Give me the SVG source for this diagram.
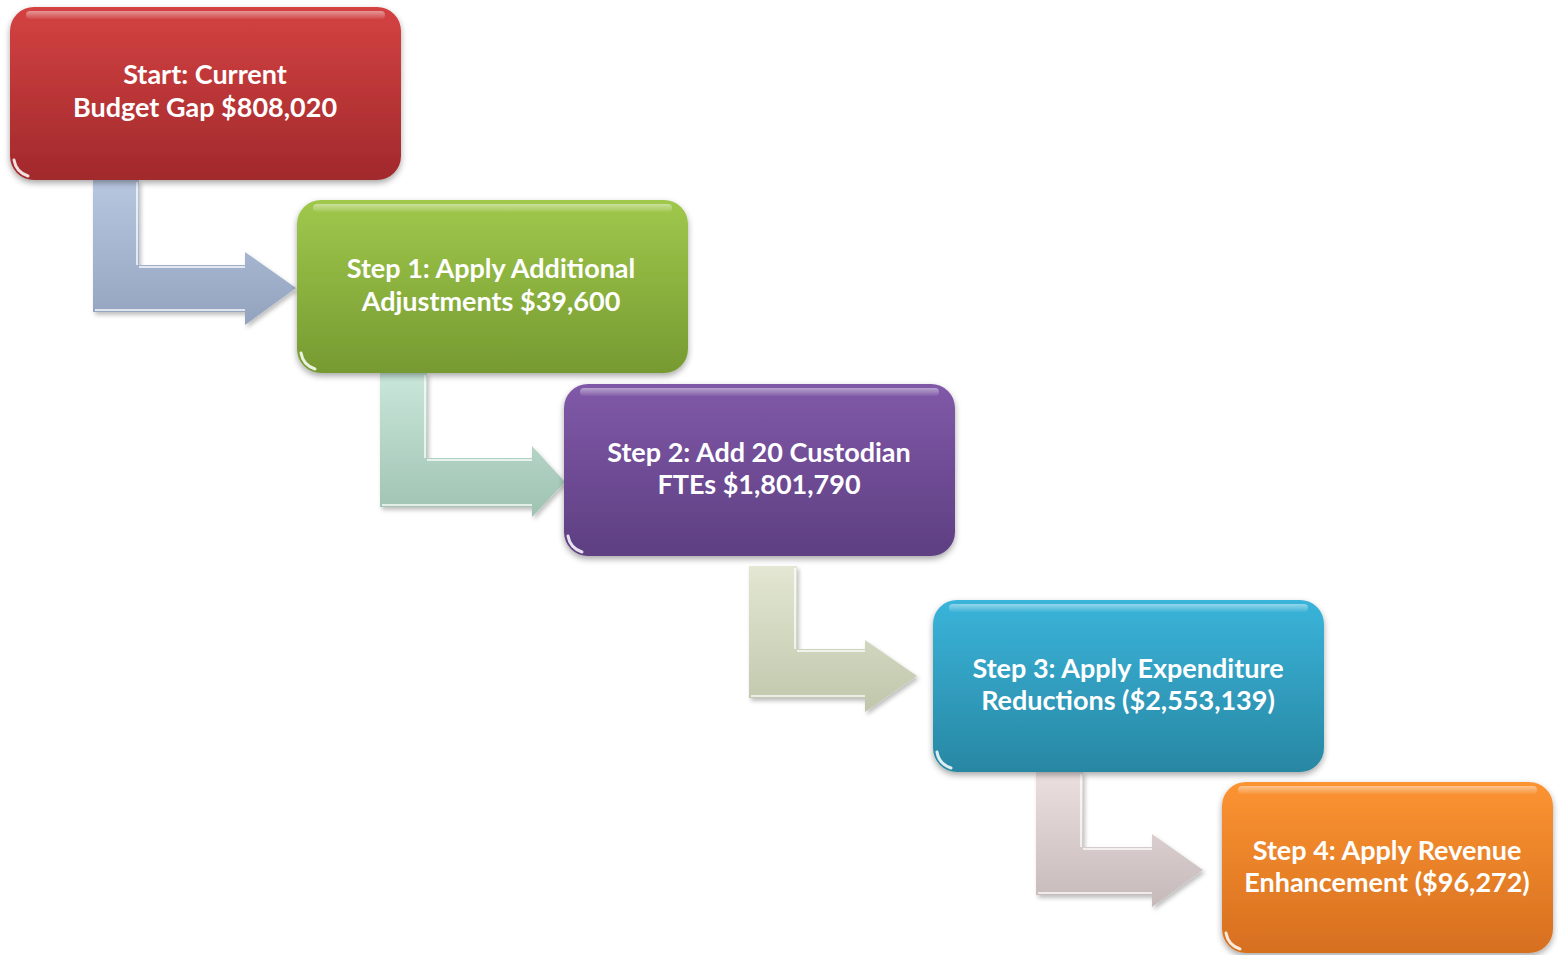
<svg xmlns="http://www.w3.org/2000/svg" width="1558" height="955" viewBox="0 0 1558 955">
<style>
.lbl{font-family:Lato,"Liberation Sans",sans-serif;font-weight:700;font-size:27px;fill:#ffffff;text-anchor:middle}
.gloss{fill:url(#gloss)}
.glint{fill:none;stroke:#ffffff;stroke-opacity:0.85;stroke-width:3;stroke-linecap:round}
.bev{fill:none;stroke:#ffffff;stroke-opacity:0.7;stroke-width:2}
</style>
<defs>
<filter id="sh" x="-10%" y="-10%" width="120%" height="130%">
<feDropShadow dx="0" dy="3" stdDeviation="3" flood-color="#000" flood-opacity="0.35"/>
</filter>
<filter id="ash" x="-10%" y="-10%" width="130%" height="130%">
<feDropShadow dx="2" dy="3" stdDeviation="2" flood-color="#000" flood-opacity="0.25"/>
</filter>
<linearGradient id="gloss" x1="0" y1="0" x2="0" y2="1">
<stop offset="0" stop-color="#fff" stop-opacity="0.45"/>
<stop offset="1" stop-color="#fff" stop-opacity="0.05"/>
</linearGradient>
<linearGradient id="gRed" x1="0" y1="0" x2="0" y2="1"><stop offset="0" stop-color="#d44242"/><stop offset="1" stop-color="#a1292c"/></linearGradient>
<linearGradient id="gGreen" x1="0" y1="0" x2="0" y2="1"><stop offset="0" stop-color="#a0c84c"/><stop offset="1" stop-color="#769a31"/></linearGradient>
<linearGradient id="gPurple" x1="0" y1="0" x2="0" y2="1"><stop offset="0" stop-color="#8059a8"/><stop offset="1" stop-color="#5e3f82"/></linearGradient>
<linearGradient id="gCyan" x1="0" y1="0" x2="0" y2="1"><stop offset="0" stop-color="#3ab4da"/><stop offset="1" stop-color="#2887a3"/></linearGradient>
<linearGradient id="gOrange" x1="0" y1="0" x2="0" y2="1"><stop offset="0" stop-color="#fc9432"/><stop offset="1" stop-color="#d66f1f"/></linearGradient>
<linearGradient id="a1" x1="0" y1="0" x2="0" y2="1"><stop offset="0" stop-color="#b8c7e0"/><stop offset="1" stop-color="#93a3be"/></linearGradient>
<linearGradient id="a2" x1="0" y1="0" x2="0" y2="1"><stop offset="0" stop-color="#c9e7da"/><stop offset="1" stop-color="#9fc2b2"/></linearGradient>
<linearGradient id="a3" x1="0" y1="0" x2="0" y2="1"><stop offset="0" stop-color="#e3e7d3"/><stop offset="1" stop-color="#c0c6ab"/></linearGradient>
<linearGradient id="a4" x1="0" y1="0" x2="0" y2="1"><stop offset="0" stop-color="#ecdfe0"/><stop offset="1" stop-color="#c5b9b9"/></linearGradient>
</defs>
<rect width="1558" height="955" fill="#ffffff"/>
<g id="connectors">
<g id="arrow1" filter="url(#ash)">
<path d="M93,180 L139,180 L139,265 L245,265 L245,252 L296,288 L245,325 L245,312 L93,312 Z" fill="url(#a1)"/>
<path class="bev" d="M137,182 L137,265 M139,267 L245,267 M95,310 L245,310"/>
</g>
<g id="arrow2" filter="url(#ash)">
<path d="M380,373 L427,373 L427,458 L532,458 L532,446 L565,482 L532,517 L532,507 L380,507 Z" fill="url(#a2)"/>
<path class="bev" d="M425,375 L425,458 M427,460 L532,460 M382,505 L532,505"/>
</g>
<g id="arrow3" filter="url(#ash)">
<path d="M749,566 L797,566 L797,649 L865,649 L865,640 L917,676 L865,712 L865,698 L749,698 Z" fill="url(#a3)"/>
<path class="bev" d="M795,568 L795,649 M797,651 L865,651 M751,696 L865,696"/>
</g>
<g id="arrow4" filter="url(#ash)">
<path d="M1036,772 L1083,772 L1083,847 L1152,847 L1152,834 L1203,870 L1152,907 L1152,895 L1036,895 Z" fill="url(#a4)"/>
<path class="bev" d="M1081,774 L1081,847 M1083,849 L1152,849 M1038,893 L1152,893"/>
</g>
</g>
<g id="start">
<rect x="10" y="7" width="391" height="173" rx="24" fill="url(#gRed)" filter="url(#sh)"/>
<rect x="26" y="11" width="359" height="8" rx="4" class="gloss"/>
<path class="glint" d="M14,160 Q16,172 28,176"/>
<text class="lbl" x="205" y="84">Start: Current</text>
<text class="lbl" x="205" y="117">Budget Gap $808,020</text>
</g>
<g id="step1">
<rect x="297" y="200" width="391" height="173" rx="24" fill="url(#gGreen)" filter="url(#sh)"/>
<rect x="313" y="204" width="359" height="8" rx="4" class="gloss"/>
<path class="glint" d="M301,353 Q303,365 315,369"/>
<text class="lbl" x="491" y="278">Step 1: Apply Additional</text>
<text class="lbl" x="491" y="311">Adjustments $39,600</text>
</g>
<g id="step2">
<rect x="564" y="384" width="391" height="172" rx="24" fill="url(#gPurple)" filter="url(#sh)"/>
<rect x="580" y="388" width="359" height="8" rx="4" class="gloss"/>
<path class="glint" d="M568,536 Q570,548 582,552"/>
<text class="lbl" x="759" y="462">Step 2: Add 20 Custodian</text>
<text class="lbl" x="759" y="494">FTEs $1,801,790</text>
</g>
<g id="step3">
<rect x="933" y="600" width="391" height="172" rx="24" fill="url(#gCyan)" filter="url(#sh)"/>
<rect x="949" y="604" width="359" height="8" rx="4" class="gloss"/>
<path class="glint" d="M937,752 Q939,764 951,768"/>
<text class="lbl" x="1128" y="678">Step 3: Apply Expenditure</text>
<text class="lbl" x="1128" y="710">Reductions ($2,553,139)</text>
</g>
<g id="step4">
<rect x="1222" y="782" width="331" height="171" rx="24" fill="url(#gOrange)" filter="url(#sh)"/>
<rect x="1238" y="786" width="299" height="8" rx="4" class="gloss"/>
<path class="glint" d="M1226,933 Q1228,945 1240,949"/>
<text class="lbl" x="1387" y="860">Step 4: Apply Revenue</text>
<text class="lbl" x="1387" y="892">Enhancement ($96,272)</text>
</g>
</svg>
